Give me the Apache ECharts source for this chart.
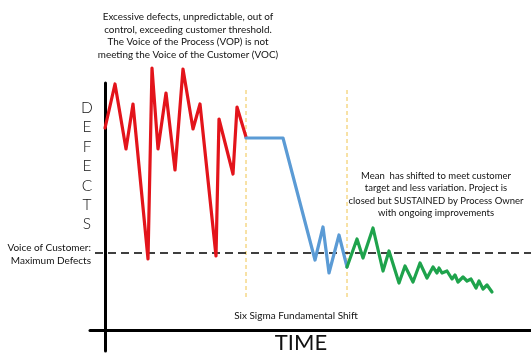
<!DOCTYPE html>
<html><head><meta charset="utf-8">
<script src="https://cdn.jsdelivr.net/npm/echarts@6/dist/echarts.min.js"></script>
<style>html,body{margin:0;padding:0;background:#fff}#c{width:531px;height:355px}</style>
</head><body><div id="c"></div>
<script>
// time units / defect units
const redData = [[0,20.2],[2,24.6],[4.2,18.1],[5.6,22.6],[8.6,7.1],[9.4,26.2],[10.6,18.1],[12.2,23.7],[14,16],[15.6,26.1],[17.6,20.1],[19,22.6],[22.2,7.4],[22.8,21.1],[25.6,15.6],[26.4,22.3],[28.2,19.3]];
const blueData = [[28.2,19.2],[35.6,19.2],[42,7],[43.6,10.3],[44.8,5.7],[46.8,9.5],[48.4,6.3]];
const greenData = [[48.4,6.3],[50.4,9.1],[51.6,7.2],[53.6,10.2],[55.6,5.9],[56.8,7.9],[58.8,4.7],[60,6.4],[61.6,4.8],[63,6.7],[64.4,5.2],[65.6,6.3],[66.4,5.7],[66.8,6.2],[67.4,5.7],[68.4,5.9],[69.4,5.1],[70,5.5],[70.6,4.8],[71.6,5.3],[72.4,4.9],[73.2,5.1],[74.2,4.2],[74.8,4.9],[75.6,4.1],[76.4,4.5],[77.4,3.8]];
const customerLimit = 7.7;
const shiftTimes = [28.2, 48.4];
const shiftRange = [3, 24];
const xRange = [-3, 85.2];
const yRange = [-2.1, 24.7];
const topNote = ["Excessive defects, unpredictable, out of","control, exceeding customer threshold.","The Voice of the Process (VOP) is not","meeting the Voice of the Customer (VOC)"];
const rightNote = ["Mean  has shifted to meet customer","target and less variation. Project is","closed but SUSTAINED by Process Owner","with ongoing improvements"];
const yLetters = ["D","E","F","E","C","T","S"];
const vocLabel = ["Voice of Customer:","Maximum Defects"];
const shiftLabel = "Six Sigma Fundamental Shift";
const xTitle = "TIME";

const FONT = "Lato, sans-serif";
const chart = echarts.init(document.getElementById('c'), null, {renderer:'canvas'});
const graphics = [];
const txt = (text,x,y,size,align,weight)=>graphics.push({type:'text',style:{text,x,y,fill:'#111',font:(weight||'normal')+' '+size+'px '+FONT,textAlign:align||'center',textVerticalAlign:'middle'}});
topNote.forEach((t,i)=>txt(t,188,17+i*12.5,9.9));
rightNote.forEach((t,i)=>txt(t,436,176+i*12.4,9.5));
yLetters.forEach((t,i)=>txt(t,87,108+i*19.4,15.5,'center','300'));
vocLabel.forEach((t,i)=>txt(t,91,248+i*13,10,'right'));
txt(shiftLabel,296,316,10);
txt(xTitle,301,343,22);

const lineS = (data,color)=>({type:'line',data,showSymbol:false,symbol:'none',clip:false,animation:false,
  lineStyle:{color,width:3.2,join:'round',cap:'round'},z:5});
chart.setOption({
  animation:false,
  grid:{left:90,right:0,top:83,bottom:4},
  xAxis:{type:'value',min:xRange[0],max:xRange[1],splitLine:{show:false},axisTick:{show:false},axisLabel:{show:false},
    axisLine:{onZero:true,lineStyle:{color:'#000',width:3}}},
  yAxis:{type:'value',min:yRange[0],max:yRange[1],splitLine:{show:false},axisTick:{show:false},axisLabel:{show:false},
    axisLine:{onZero:true,lineStyle:{color:'#000',width:3}}},
  series:[
    {type:'line',data:[[-2,customerLimit],[xRange[1],customerLimit]],symbol:'none',clip:false,lineStyle:{color:'#000',width:1.5,type:[8,5]},z:2},
    ...shiftTimes.map(t=>({type:'line',data:[[t,shiftRange[1]],[t,shiftRange[0]]],symbol:'none',lineStyle:{color:'#f0c44c',width:1,type:[4,3]},z:1})),
    lineS(redData,'#e3141b'),
    lineS(blueData,'#5b9bd5'),
    lineS(greenData,'#1ea34c')
  ],
  graphic:graphics
});
</script></body></html>
